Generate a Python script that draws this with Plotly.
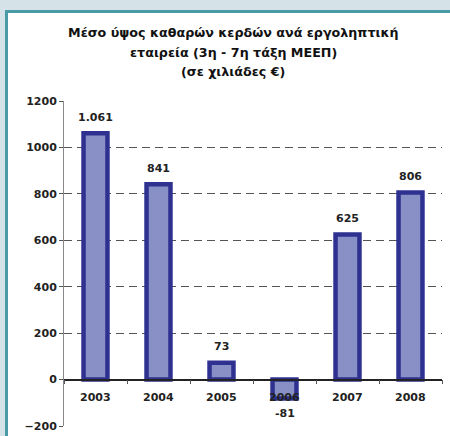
import plotly.graph_objects as go

years = ["2003", "2004", "2005", "2006", "2007", "2008"]
values = [1061, 841, 73, -81, 625, 806]
labels = ["1.061", "841", "73", "-81", "625", "806"]
y_ticks = [-200, 0, 200, 400, 600, 800, 1000, 1200]
title_lines = ["Μέσο ύψος καθαρών κερδών ανά εργοληπτική",
               "εταιρεία (3η - 7η τάξη ΜΕΕΠ)",
               "(σε χιλιάδες €)"]

W, H = 450, 436
ml, mr, mt, mb = 64, 8, 101, 10
pw = W - ml - mr
ph = H - mt - mb

fig = go.Figure()
fig.add_trace(go.Bar(
    x=years, y=values,
    marker=dict(color="#8890c6", line=dict(color="#2e3190", width=4.5)),
    width=0.38, cliponaxis=False,
))

lab_font = dict(family="DejaVu Sans", size=11, color="#222222", weight="bold")

for i, (yr, v, lab) in enumerate(zip(years, values, labels)):
    fig.add_annotation(x=i, y=v, text=lab, showarrow=False,
                       xref="x", yref="y",
                       yshift=16 if v >= 0 else -15, font=lab_font)
    # category label sitting just under the zero line, drawn above the bars
    fig.add_annotation(x=i, y=0, text=yr, showarrow=False,
                       xref="x", yref="y", yshift=-18, font=lab_font)

def px_to_paper_x(px):
    return (px - ml) / pw

def px_to_paper_y(py):
    return (H - mb - py) / ph

for i, line in enumerate(title_lines):
    fig.add_annotation(x=px_to_paper_x(233), y=px_to_paper_y(33 + 19 * i),
                       xref="paper", yref="paper", text=line, showarrow=False,
                       xanchor="center", yanchor="middle",
                       font=dict(family="DejaVu Sans", size=12.7, color="#111111", weight="bold"))

fig.add_shape(type="rect", xref="paper", yref="paper", layer="below",
              x0=px_to_paper_x(6.5), x1=px_to_paper_x(470),
              y0=px_to_paper_y(470), y1=px_to_paper_y(11.5),
              fillcolor="white", line=dict(color="#4b9aa7", width=3))

fig.update_layout(
    width=W, height=H,
    margin=dict(l=ml, r=mr, t=mt, b=mb, autoexpand=False),
    paper_bgcolor="#d5e2e8", plot_bgcolor="rgba(0,0,0,0)",
    showlegend=False,
    xaxis=dict(
        type="category", categoryorder="array", categoryarray=years,
        range=[-0.5, 5.5],
        anchor="free", position=200 / 1400, automargin=False,
        showline=True, linecolor="#222222", linewidth=1.5,
        ticks="outside", tickson="boundaries", ticklen=4, tickcolor="#555555",
        showticklabels=False,
        showgrid=False, zeroline=False,
    ),
    yaxis=dict(
        range=[-200, 1200], tickvals=y_ticks, automargin=False,
        showline=True, linecolor="#888888", linewidth=1,
        ticks="outside", ticklen=4, tickcolor="#555555",
        tickfont=lab_font,
        showgrid=True, gridcolor="#555555", griddash="8px,5px", gridwidth=1,
        zeroline=False,
    ),
)

fig.write_html("out.html", config={"displayModeBar": False},
               post_script="document.body.style.margin='0';document.body.style.overflow='hidden';")
